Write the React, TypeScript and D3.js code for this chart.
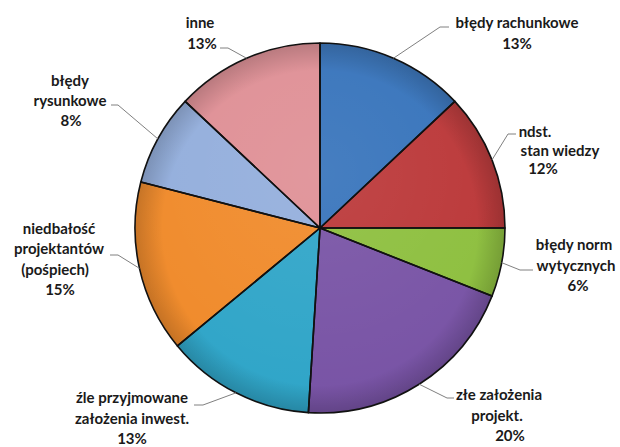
import { useMemo } from "react";
import * as d3 from "d3";

const WIDTH = 620;
const HEIGHT = 447;
const CENTER = { x: 320, y: 228 };
const RADIUS = 185;

// slice data, clockwise from 12 o'clock
const names = [
  ["błędy rachunkowe"],
  ["ndst.", "stan wiedzy"],
  ["błędy norm", "wytycznych"],
  ["złe założenia", "projekt."],
  ["źle przyjmowane", "założenia inwest."],
  ["niedbałość", "projektantów", "(pośpiech)"],
  ["błędy", "rysunkowe"],
  ["inne"],
];
const values = [13, 12, 6, 20, 13, 15, 8, 13];
const colors = ["#3673bb", "#bb3738", "#8dbf3e", "#7853a5", "#2fa5c8", "#f08a2a", "#93aedc", "#df8f95"];

// label layout: elbow of leader, end of leader, text centre x per line, first baseline
const labelLayout = [
  { elbow: [440, 27], end: [449, 27], xs: [517, 517], y: 28, lh: 21 },
  { elbow: [508, 134], end: [516, 134], xs: [535, 560, 543], y: 137, lh: 18.5 },
  { elbow: [520, 270], end: [533, 270], xs: [574, 576, 578], y: 250, lh: 20.5 },
  { elbow: [447, 398], end: [454, 398], xs: [499, 497, 510], y: 400, lh: 20.5 },
  { elbow: [203, 405], end: [194, 405], xs: [132, 132, 132], y: 403, lh: 20.5 },
  { elbow: [118, 255], end: [110, 255], xs: [59, 59, 55, 60], y: 234, lh: 20.3 },
  { elbow: [118, 105], end: [111, 105], xs: [70, 70, 71], y: 86, lh: 20 },
  { elbow: [228, 48], end: [220, 48], xs: [200, 202], y: 28, lh: 21 },
];

export default function App() {
  const arcs = useMemo(
    () =>
      d3
        .pie<number>()
        .sort(null)
        .startAngle(0)
        .endAngle(2 * Math.PI)(values),
    []
  );
  const arc = d3.arc<d3.PieArcDatum<number>>().innerRadius(0).outerRadius(RADIUS);
  const total = d3.sum(values);

  return (
    <svg width={WIDTH} height={HEIGHT} style={{ position: "absolute", left: 0, top: 0 }}>
      <defs>
        <radialGradient id="rim" cx="0.5" cy="0.5" r="0.5">
          <stop offset="0.85" stopColor="#000" stopOpacity={0} />
          <stop offset="1" stopColor="#000" stopOpacity={0.18} />
        </radialGradient>
        <radialGradient id="shine" cx="0.5" cy="0.35" r="0.65">
          <stop offset="0" stopColor="#fff" stopOpacity={0.08} />
          <stop offset="1" stopColor="#fff" stopOpacity={0} />
        </radialGradient>
      </defs>
      <rect width={WIDTH} height={HEIGHT} fill="#fff" />
      <g transform={`translate(${CENTER.x},${CENTER.y})`}>
        {arcs.map((a, i) => (
          <path key={i} d={arc(a) ?? ""} fill={colors[i]} />
        ))}
        <circle r={RADIUS} fill="url(#rim)" />
        <circle r={RADIUS} fill="url(#shine)" />
        {arcs.map((a, i) => (
          <path key={"o" + i} d={arc(a) ?? ""} fill="none" stroke="#111" strokeWidth={1.6} strokeLinejoin="round" />
        ))}
      </g>
      {arcs.map((a, i) => {
        const mid = (a.startAngle + a.endAngle) / 2;
        const px = CENTER.x + RADIUS * Math.sin(mid);
        const py = CENTER.y - RADIUS * Math.cos(mid);
        const lay = labelLayout[i];
        const lines = [...names[i], `${Math.round((values[i] / total) * 100)}%`];
        return (
          <g key={"l" + i}>
            <polyline
              points={`${px},${py} ${lay.elbow[0]},${lay.elbow[1]} ${lay.end[0]},${lay.end[1]}`}
              fill="none"
              stroke="#808080"
              strokeWidth={1}
            />
            <text
              fontFamily="Lato, 'Open Sans', sans-serif"
              fontWeight="bold"
              fontSize={15}
              fill="#1a1a1a"
              textAnchor="middle"
            >
              {lines.map((t, j) => (
                <tspan key={j} x={lay.xs[j]} y={lay.y + j * lay.lh}>
                  {t}
                </tspan>
              ))}
            </text>
          </g>
        );
      })}
    </svg>
  );
}
